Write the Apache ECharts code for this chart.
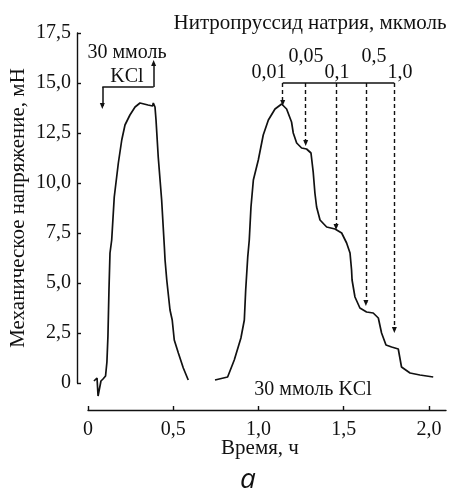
<!DOCTYPE html>
<html><head><meta charset="utf-8">
<script src="https://cdn.jsdelivr.net/npm/echarts@6/dist/echarts.min.js"></script>
<style>html,body{margin:0;padding:0;background:#fff}#c{width:449px;height:495px}</style>
</head><body><div id="c"></div>
<script>
// Curve 1 (first KCl contraction)
const time1 = [0.035,0.053,0.059,0.076,0.088,0.103,0.108,0.111,0.117,0.123,0.129,0.139,0.154,0.178,0.198,0.217,0.246,0.276,0.305,0.352,0.379,0.383,0.393,0.399,0.412,0.432,0.448,0.452,0.462,0.481,0.494,0.506,0.530,0.559,0.588];
const force1 = [0.1,0.25,-0.65,0.1,0.2,0.35,0.25,1.05,2.35,4.65,6.5,7.15,9.3,11.0,12.15,12.9,13.4,13.8,14.0,13.9,13.85,14.0,13.8,13.15,11.3,9.15,6.8,6.15,5.15,3.65,3.15,2.15,1.5,0.75,0.15];
// Curve 2 (KCl contraction + nitroprusside)
const time2 = [0.745,0.819,0.858,0.897,0.917,0.925,0.937,0.946,0.956,0.970,0.999,1.028,1.058,1.097,1.136,1.165,1.194,1.204,1.224,1.253,1.282,1.308,1.321,1.331,1.341,1.361,1.400,1.449,1.488,1.517,1.537,1.546,1.549,1.566,1.595,1.634,1.673,1.703,1.722,1.748,1.781,1.820,1.839,1.889,1.947,2.025];
const force2 = [0.15,0.3,1.15,2.25,3.15,4.65,6.3,7.15,8.8,10.15,11.15,12.4,13.15,13.7,13.95,13.7,13.05,12.5,12.0,11.75,11.7,11.5,10.55,9.5,8.8,8.15,7.8,7.7,7.5,7.0,6.5,5.65,5.15,4.3,3.75,3.55,3.5,3.25,2.5,1.9,1.8,1.7,0.8,0.5,0.4,0.3];
// Nitroprusside doses
const doseLabels = ['0,01','0,05','0,1','0,5','1,0'];
const doseTimes = [1.142,1.277,1.455,1.630,1.797];
const doseTipForce = [14.0,12.0,7.8,4.0,2.65];
const doseBracketForce = 15.0;
// KCl marker
const kclTimes = [0.084,0.385];
const kclBracketForce = 14.8;
const kclTipForce = [13.85,16.0];
// Axis ticks
const xTicks = [0,0.5,1.0,1.5,2.0];
const yTicks = [0,2.5,5.0,7.5,10.0,12.5,15.0,17.5];

const pair = (a,b)=>a.map((v,i)=>[v,b[i]]);
const fmt = v => v===0 ? '0' : v.toFixed(1).replace('.',',');
const serif = 'Liberation Serif';
const black = '#111';

const doseLines = doseTimes.map((t,i)=>[
  {coord:[t,doseBracketForce],symbol:'none',lineStyle:{type:[4,3],width:1.4,color:black}},
  {coord:[t,doseTipForce[i]],symbol:'triangle',symbolSize:[5,6]}
]);
const markData = [
  [{coord:[doseTimes[0],doseBracketForce],symbol:'none',lineStyle:{type:'solid',width:1.5,color:black}},
   {coord:[doseTimes[doseTimes.length-1],doseBracketForce],symbol:'none'}],
  ...doseLines,
  [{coord:[kclTimes[0],kclBracketForce],symbol:'none',lineStyle:{type:'solid',width:1.5,color:black}},
   {coord:[kclTimes[1],kclBracketForce],symbol:'none'}],
  [{coord:[kclTimes[0],kclBracketForce],symbol:'none',lineStyle:{type:'solid',width:1.5,color:black}},
   {coord:[kclTimes[0],kclTipForce[0]],symbol:'triangle',symbolSize:[5,6]}],
  [{coord:[kclTimes[1],kclBracketForce],symbol:'none',lineStyle:{type:'solid',width:1.5,color:black}},
   {coord:[kclTimes[1],kclTipForce[1]],symbol:'triangle',symbolSize:[5,6]}]
];

const doseLabelPos = [[269,73],[306,57],[337,73],[374,57],[400,73]];
const txt = (x,y,s,size,extra)=>Object.assign({type:'text',x:x,y:y,style:Object.assign({text:s,font:size+'px "'+serif+'"',fill:black,align:'center',verticalAlign:'middle'},extra||{})});

const chart = echarts.init(document.getElementById('c'),null,{renderer:'canvas'});
chart.setOption({
  animation:false,
  backgroundColor:'#fff',
  grid:{left:88,right:3,top:33,bottom:112,containLabel:false,outerBoundsMode:'none'},
  xAxis:{type:'value',min:0,max:2.1,interval:0.5,offset:27,
    name:'Время, ч',nameLocation:'middle',nameGap:28,nameMoveOverlap:false,
    nameTextStyle:{fontFamily:serif,fontSize:21,color:black,padding:[0,14,0,0]},
    axisLine:{onZero:false,lineStyle:{color:black,width:1.4}},
    axisTick:{inside:true,length:4,lineStyle:{color:black,width:1.4},customValues:xTicks},
    axisLabel:{fontFamily:serif,fontSize:20,color:black,margin:10,formatter:fmt,customValues:xTicks},
    splitLine:{show:false}},
  yAxis:{type:'value',min:0,max:17.5,interval:2.5,offset:11,
    name:'Механическое напряжение, мН',nameLocation:'middle',nameGap:48,nameMoveOverlap:false,
    nameTextStyle:{fontFamily:serif,fontSize:21,color:black},
    axisLine:{show:true,onZero:false,lineStyle:{color:black,width:1.4}},
    axisTick:{show:true,inside:true,length:4,lineStyle:{color:black,width:1.4},customValues:yTicks},
    axisLabel:{fontFamily:serif,fontSize:20,color:black,margin:6,formatter:fmt,customValues:yTicks},
    splitLine:{show:false}},
  series:[
    {type:'line',data:pair(time1,force1),showSymbol:false,clip:false,
      lineStyle:{color:black,width:1.7},
      markLine:{silent:true,animation:false,label:{show:false},symbol:['none','triangle'],data:markData}},
    {type:'line',data:pair(time2,force2),showSymbol:false,clip:false,
      lineStyle:{color:black,width:1.7}}
  ],
  graphic:[
    txt(310,23,'Нитропруссид натрия, мкмоль',21),
    ...doseLabels.map((s,i)=>txt(doseLabelPos[i][0],doseLabelPos[i][1],s,20)),
    txt(127,53,'30 ммоль',20),
    txt(127,77,'KCl',20),
    txt(313,390,'30 ммоль KCl',20),
    {type:'text',x:248,y:480,style:{text:'а',font:'italic 28px "Open Sans"',fill:black,align:'center',verticalAlign:'middle'}}
  ]
});
</script></body></html>
